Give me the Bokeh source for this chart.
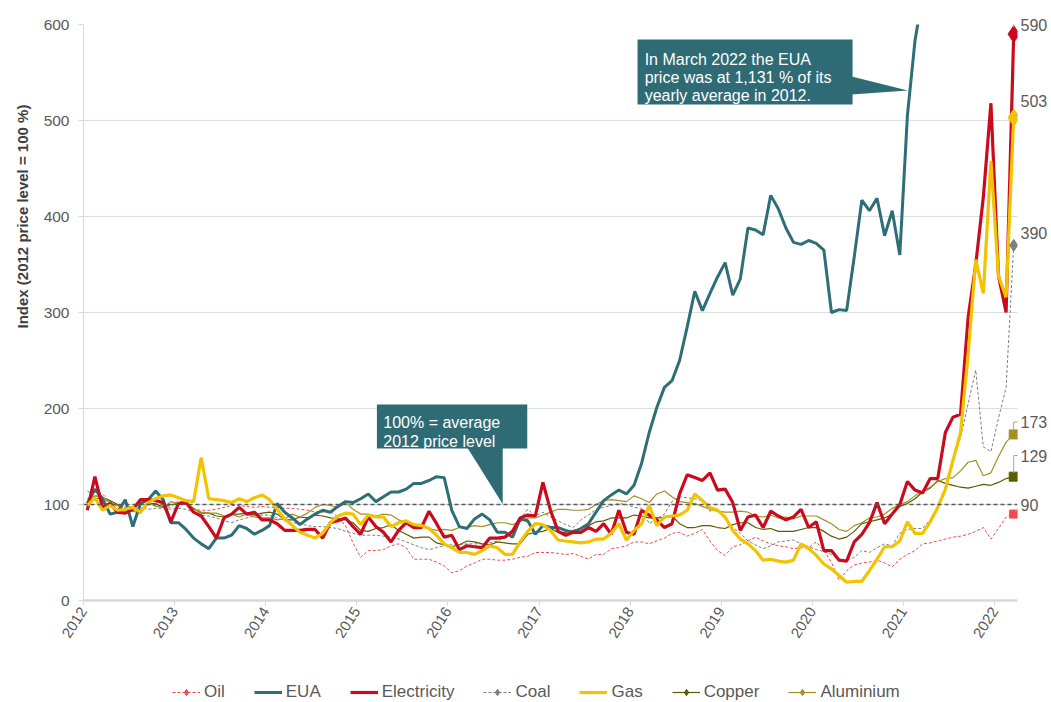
import math
from bokeh.plotting import figure
from bokeh.layouts import column
from bokeh.models import (Range1d, FixedTicker, Span, BoxAnnotation, PolyAnnotation,
                          Label, Legend, LegendItem, Arrow, LinearAxis, Title)
from bokeh.embed import file_html
from bokeh.resources import INLINE

FONT = "Liberation Sans"

# ---------------- data (monthly index, 2012 average = 100) ----------------
years = list(range(2012, 2023))
year_labels = [str(y) for y in years]
first_year = 2012
n_months = 123  # Jan 2012 .. Mar 2022

oil = [104, 113, 111, 103, 97, 90, 96, 100, 100, 99, 98, 97,
       104, 101, 95, 94, 94, 95, 97, 99, 99, 98, 97, 98,
       97, 97, 96, 96, 95, 94, 92, 92, 93, 87, 78, 60,
       45, 52, 52, 53, 57, 59, 55, 43, 43, 43, 40, 36,
       29, 31, 36, 39, 43, 43, 42, 42, 43, 45, 46, 50,
       50, 50, 49, 48, 49, 46, 43, 48, 48, 54, 55, 57,
       61, 61, 59, 62, 65, 70, 71, 67, 70, 74, 62, 52,
       47, 56, 58, 62, 66, 62, 59, 57, 56, 54, 55, 55,
       61, 52, 40, 21, 31, 37, 39, 40, 42, 39, 35, 43,
       48, 52, 59, 60, 62, 64, 66, 67, 69, 72, 76, 64,
       75, 87, 90]

eua = [101, 116, 106, 90, 92, 105, 77, 101, 105, 114, 105, 81,
       81, 74, 65, 59, 54, 65, 65, 68, 78, 75, 69, 73,
       78, 101, 92, 86, 79, 85, 90, 94, 92, 98, 103, 102,
       106, 111, 103, 108, 113, 113, 116, 122, 122, 125, 129, 128,
       94, 77, 75, 85, 90, 84, 71, 71, 66, 85, 83, 69,
       78, 76, 76, 73, 71, 75, 80, 92, 104, 110, 115, 111,
       120, 143, 175, 201, 222, 229, 250, 285, 322, 302, 320, 337,
       352, 318, 335, 388, 386, 381, 422, 408, 388, 373, 371, 375,
       372, 365, 300, 303, 302, 358, 417, 406, 419, 380, 406, 360,
       505, 583, 630, 640, 700, 720, 720, 770, 840, 800, 900, 1070,
       1140, 1215, 1131]

electricity = [94, 129, 97, 101, 92, 91, 95, 105, 105, 104, 102, 82,
               101, 102, 92, 88, 77, 65, 86, 90, 97, 90, 92, 84,
               84, 80, 73, 73, 73, 74, 74, 65, 81, 83, 86, 77,
               69, 87, 77, 71, 61, 73, 81, 76, 76, 93, 80, 66,
               68, 53, 57, 56, 55, 65, 65, 66, 72, 86, 89, 88,
               123, 94, 72, 68, 71, 71, 76, 72, 80, 69, 94, 71,
               69, 94, 89, 84, 76, 80, 111, 131, 128, 125, 133, 115,
               116, 102, 73, 87, 89, 76, 93, 88, 84, 87, 95, 76,
               82, 52, 52, 42, 41, 61, 69, 81, 102, 80, 90, 100,
               124, 115, 112, 127, 127, 175, 191, 194, 295, 350, 420, 518,
               338, 300, 590]

coal = [114, 110, 106, 102, 99, 97, 98, 97, 95, 96, 96, 95,
        96, 95, 92, 89, 88, 86, 83, 81, 84, 86, 88, 89,
        89, 86, 83, 81, 80, 78, 77, 77, 76, 75, 72, 70,
        68, 68, 68, 67, 66, 64, 61, 58, 55, 53, 55, 57,
        58, 58, 59, 59, 59, 60, 62, 66, 73, 85, 95, 88,
        92, 87, 83, 79, 76, 84, 89, 95, 97, 99, 101, 100,
        97, 96, 80, 85, 90, 103, 108, 107, 106, 104, 93, 94,
        85, 76, 70, 62, 58, 54, 57, 61, 62, 63, 59, 56,
        53, 51, 48, 42, 42, 45, 52, 50, 55, 59, 57, 70,
        74, 75, 75, 84, 95, 118, 145, 170, 205, 240, 160, 155,
        190, 222, 370]

gas = [99, 107, 94, 99, 94, 95, 97, 92, 102, 106, 109, 110,
       107, 104, 103, 149, 106, 105, 104, 102, 106, 103, 107, 110,
       105, 95, 85, 78, 71, 68, 65, 70, 81, 88, 91, 90,
       79, 89, 87, 87, 77, 81, 83, 79, 78, 75, 68, 59,
       55, 50, 50, 48, 52, 57, 55, 48, 48, 61, 72, 80,
       79, 73, 63, 62, 61, 60, 61, 64, 64, 70, 80, 63,
       73, 80, 99, 78, 87, 88, 89, 94, 111, 104, 97, 94,
       87, 73, 64, 59, 52, 42, 43, 41, 40, 42, 59, 54,
       47, 38, 33, 26, 19, 20, 20, 31, 43, 56, 56, 62,
       82, 70, 70, 82, 97, 116, 146, 175, 256, 355, 320, 458,
       338, 316, 503]

copper = [101, 106, 107, 104, 100, 93, 95, 94, 101, 101, 97, 100,
          101, 101, 96, 91, 91, 88, 87, 90, 90, 91, 89, 91,
          92, 90, 84, 84, 87, 86, 89, 88, 86, 85, 84, 81,
          73, 72, 75, 76, 79, 73, 69, 65, 66, 66, 60, 58,
          56, 58, 62, 61, 59, 58, 61, 60, 59, 59, 69, 71,
          72, 75, 71, 71, 73, 75, 78, 82, 83, 86, 86, 86,
          89, 88, 86, 86, 86, 88, 80, 76, 76, 78, 78, 76,
          75, 79, 81, 81, 76, 74, 75, 72, 72, 72, 74, 76,
          76, 72, 67, 64, 66, 72, 80, 82, 84, 86, 90, 98,
          101, 106, 113, 117, 125, 122, 120, 118, 117, 119, 121, 120,
          123, 127, 129]

aluminium = [106, 109, 108, 102, 99, 94, 93, 91, 102, 98, 97, 103,
             101, 101, 95, 92, 91, 91, 88, 90, 87, 90, 87, 86,
             86, 84, 85, 90, 87, 91, 97, 100, 99, 97, 102, 95,
             90, 90, 88, 90, 89, 84, 81, 77, 79, 75, 73, 74,
             73, 76, 76, 78, 77, 79, 81, 81, 79, 82, 86, 86,
             89, 92, 95, 95, 94, 94, 95, 100, 104, 105, 104, 103,
             109, 106, 102, 111, 114, 108, 103, 102, 101, 98, 95, 93,
             92, 92, 93, 92, 88, 87, 89, 86, 87, 85, 88, 88,
             88, 84, 80, 74, 72, 78, 81, 86, 87, 90, 96, 100,
             103, 109, 114, 118, 124, 127, 128, 135, 144, 146, 130, 133,
             150, 165, 173]

series_names = ["Oil", "EUA", "Electricity", "Coal", "Gas", "Copper", "Aluminium"]
end_labels = ["590", "503", "390", "173", "129", "90"]

# month centres in fractional years
month_pos = [first_year + (i + 0.5) / 12 for i in range(n_months)]

# ---------------- styles ----------------
C_OIL = "#ef4b4b"
C_EUA = "#2e6e77"
C_ELEC = "#cc0a1e"
C_COAL = "#7f7f7f"
C_GAS = "#f2c300"
C_COP = "#5c5c00"
C_ALU = "#a39020"
line_styles = {
    "Oil": dict(line_color=C_OIL, line_width=1, line_dash="3 2"),
    "EUA": dict(line_color=C_EUA, line_width=3),
    "Electricity": dict(line_color=C_ELEC, line_width=3.2),
    "Coal": dict(line_color=C_COAL, line_width=1, line_dash="3 2"),
    "Gas": dict(line_color=C_GAS, line_width=3.2),
    "Copper": dict(line_color=C_COP, line_width=1.2),
    "Aluminium": dict(line_color=C_ALU, line_width=1.2),
}
legend_diamond = {"Oil": C_OIL, "Coal": C_COAL, "Copper": C_COP, "Aluminium": C_ALU}

# ---------------- main figure ----------------
p = figure(width=1051, height=670,
           x_range=Range1d(2012, 2022.25), y_range=Range1d(0, 600),
           output_backend="svg", toolbar_location=None,
           min_border_left=83, min_border_right=34,
           min_border_top=24, min_border_bottom=70)
p.outline_line_color = None
p.background_fill_color = "white"

p.xgrid.grid_line_color = None
p.ygrid.grid_line_color = "#d9dfdc"
p.ygrid.grid_line_width = 1

p.xaxis.ticker = FixedTicker(ticks=years)
p.xaxis.major_label_overrides = {y: s for y, s in zip(years, year_labels)}
p.xaxis.major_label_orientation = 1.0
p.xaxis.major_label_text_font = FONT
p.xaxis.major_label_text_font_size = "15px"
p.xaxis.major_label_text_color = "#595959"
p.xaxis.axis_line_color = "#d3ddd7"
p.xaxis.axis_line_width = 2.5
p.xaxis.major_tick_line_color = "#d3ddd7"
p.xaxis.major_tick_out = 5
p.xaxis.major_tick_in = 0
p.xaxis.minor_tick_line_color = None
p.xaxis.major_label_standoff = 3

p.yaxis.ticker = FixedTicker(ticks=[0, 100, 200, 300, 400, 500, 600])
p.yaxis.major_label_text_font = FONT
p.yaxis.major_label_text_font_size = "15.5px"
p.yaxis.major_label_text_color = "#595959"
p.yaxis.axis_line_color = "#d3ddd7"
p.yaxis.axis_line_width = 1
p.yaxis.major_tick_line_color = "#d3ddd7"
p.yaxis.major_tick_out = 5
p.yaxis.major_tick_in = 0
p.yaxis.minor_tick_line_color = None
p.yaxis.major_label_standoff = 9

# y-axis title, placed above the vertical centre as in the original
p.add_layout(Title(text="Index (2012 price level = 100 %)", align="left", offset=272,
                   standoff=19, text_font=FONT, text_font_size="15px",
                   text_font_style="bold", text_color="#404040"), "left")

# 100 % reference line
p.add_layout(Span(location=100, dimension="width", line_color="#595959",
                  line_dash="4 3", line_width=1.3))

# series lines (thin ones first, thick ones on top)
values = {"Oil": oil, "EUA": eua, "Electricity": electricity, "Coal": coal,
          "Gas": gas, "Copper": copper, "Aluminium": aluminium}
for name in ["Oil", "Coal", "Copper", "Aluminium", "EUA", "Electricity", "Gas"]:
    p.line(month_pos, values[name], **line_styles[name])

# end markers (last month)
lx = month_pos[-1]
p.scatter([lx], [oil[-1]], marker="square", size=8, color=C_OIL)
p.scatter([lx], [coal[-1]], marker="diamond", size=12, color=C_COAL)
p.scatter([lx], [copper[-1]], marker="square", size=9, color=C_COP)
p.scatter([lx], [aluminium[-1]], marker="square", size=9, color=C_ALU)
p.scatter([lx], [electricity[-1]], marker="diamond", size=17, color=C_ELEC)
p.scatter([lx], [gas[-1]], marker="diamond", size=17, color=C_GAS)

# end value labels: an unlined right-hand axis carrying only these labels
lab_y = [600, 520, 383, 186, 151, 100]
p.extra_y_ranges = {"lab": Range1d(0, 600)}
lab_axis = LinearAxis(y_range_name="lab", ticker=FixedTicker(ticks=lab_y),
                      major_label_overrides={v: t for v, t in zip(lab_y, end_labels)},
                      axis_line_color=None, major_tick_line_color=None,
                      minor_tick_line_color=None, major_tick_out=0, major_tick_in=0,
                      major_label_standoff=3, major_label_text_font=FONT,
                      major_label_text_font_size="16px", major_label_text_color="#595959")
p.add_layout(lab_axis, "right")

leaders = [((2022.208, 597), (2022.208, 605)),
           ((2022.23, 505), (2022.28, 512)),
           ((2022.208, 178), (2022.208, 186)), ((2022.208, 186), (2022.27, 186)),
           ((2022.208, 133), (2022.208, 151)), ((2022.208, 151), (2022.27, 151)),
           ((2022.225, 92), (2022.28, 100))]
for (x0, y0), (x1, y1) in leaders:
    p.add_layout(Arrow(x_start=x0, y_start=y0, x_end=x1, y_end=y1, end=None, start=None,
                       line_color="#a6a6a6", line_width=1))

# ---------------- call-out boxes ----------------
BOX = "#2e6b75"
p.add_layout(BoxAnnotation(left=2015.22, right=2016.87, bottom=158.3, top=204.2,
                           fill_color=BOX, fill_alpha=1, line_color=None))
p.add_layout(PolyAnnotation(xs=[2016.215, 2016.60, 2016.60], ys=[158.8, 158.8, 100.5],
                            fill_color=BOX, fill_alpha=1, line_color=None))
for t, yy in zip(["100% = average", "2012 price level"], [185.4, 165.6]):
    p.add_layout(Label(x=2015.29, y=yy, text=t, text_font=FONT, text_font_size="16px",
                       text_color="white", text_baseline="alphabetic"))

p.add_layout(BoxAnnotation(left=2018.08, right=2020.44, bottom=516.7, top=584.4,
                           fill_color=BOX, fill_alpha=1, line_color=None))
p.add_layout(PolyAnnotation(xs=[2020.43, 2020.43, 2021.045], ys=[545.8, 527.0, 531.3],
                            fill_color=BOX, fill_alpha=1, line_color=None))
for t, yy in zip(["In March 2022 the EUA", "price was at 1,131 % of its",
                  "yearly average in 2012."], [563.5, 544.8, 526.0]):
    p.add_layout(Label(x=2018.158, y=yy, text=t, text_font=FONT, text_font_size="16px",
                       text_color="white", text_baseline="alphabetic"))

# ---------------- legend strip (separate small figure under the chart) ----------------
lg = figure(width=1051, height=32, x_range=Range1d(0, 1), y_range=Range1d(0, 1),
            output_backend="svg", toolbar_location=None,
            x_axis_type=None, y_axis_type=None,
            min_border_left=0, min_border_right=0, min_border_top=0, min_border_bottom=0)
lg.outline_line_color = None
lg.xgrid.grid_line_color = None
lg.ygrid.grid_line_color = None

# legend-only renderers: their points sit outside the visible range
items = []
for name in series_names:
    rs = [lg.line([-2, -1], [-2, -2], **line_styles[name])]
    if name in legend_diamond:
        rs.append(lg.scatter([-2], [-2], marker="diamond", size=10,
                             color=legend_diamond[name]))
    items.append(LegendItem(label=name, renderers=rs))

legend = Legend(items=items, orientation="horizontal", location=(89, 0),
                label_text_font=FONT, label_text_font_size="17px", label_text_color="#595959",
                glyph_width=28, glyph_height=16, label_standoff=4, spacing=29,
                padding=0, margin=0, border_line_color=None, background_fill_alpha=0)
lg.add_layout(legend, "center")

layout = column(p, lg, spacing=0)
open("out.html", "w").write(file_html(layout, INLINE))
